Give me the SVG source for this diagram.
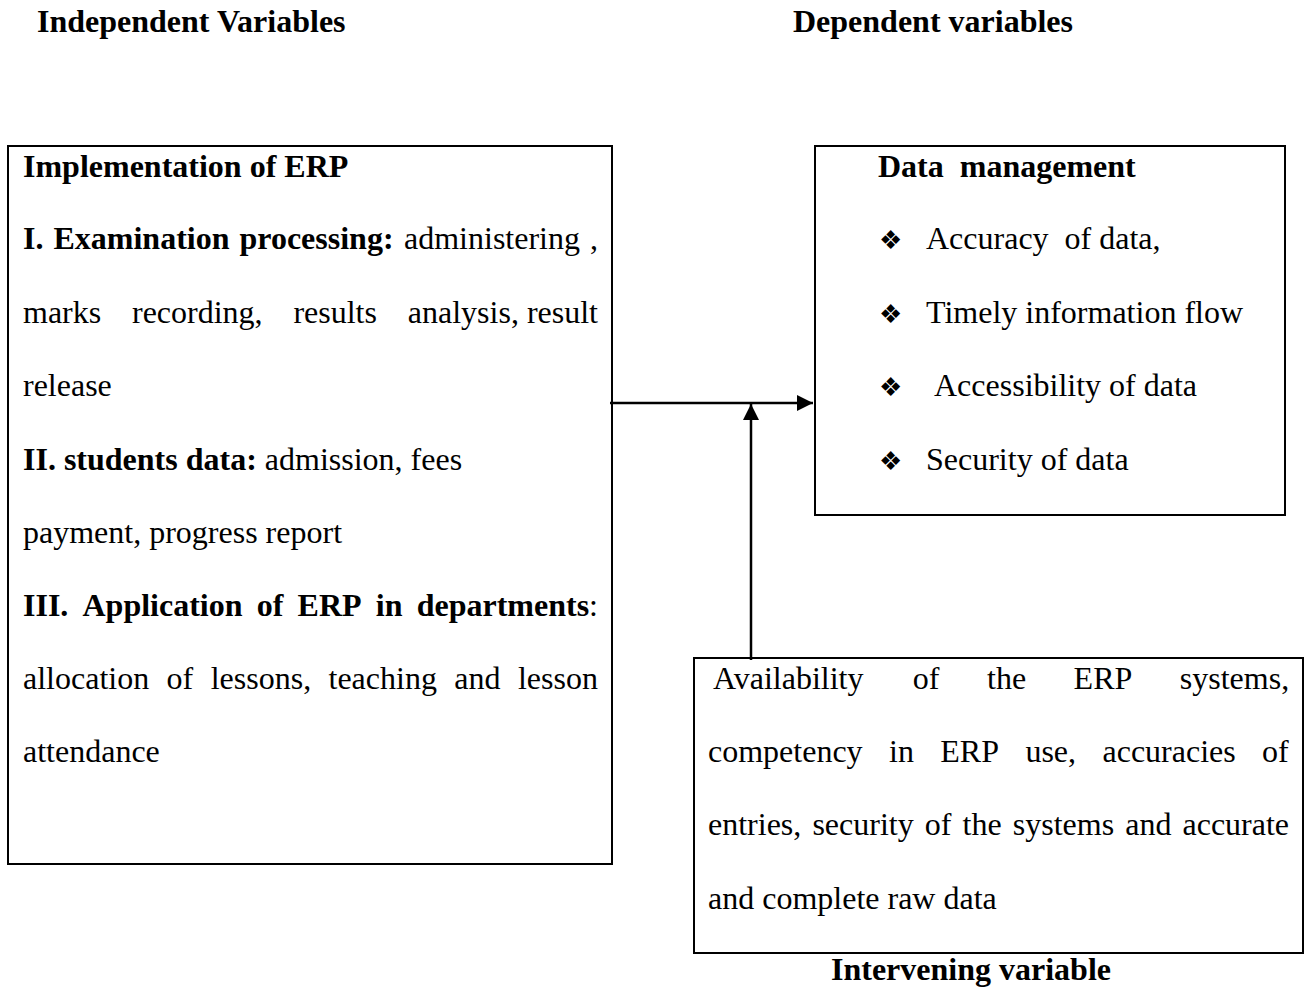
<svg xmlns="http://www.w3.org/2000/svg" width="1305" height="1003" viewBox="0 0 1305 1003">
<style>
text{font-family:"Liberation Serif","Times New Roman",serif;font-size:32px;fill:#000;white-space:pre}
.b{font-weight:bold}
.box{fill:#fff;stroke:#000;stroke-width:2}
.bul{font-family:"DejaVu Sans",sans-serif;font-size:26px}
.con{stroke:#000;stroke-width:2.5;fill:none}
</style>
<defs>
<marker id="ah" viewBox="0 0 16 16" refX="16" refY="8" markerWidth="16" markerHeight="16" markerUnits="userSpaceOnUse" orient="auto">
<path d="M0,0 L16,8 L0,16 z" fill="#000"/>
</marker>
</defs>
<g id="titles">
<text class="b" x="37" y="32">Independent Variables</text>
<text class="b" x="793" y="32">Dependent variables</text>
<text class="b" x="831" y="980">Intervening variable</text>
</g>
<g id="independent">
<rect class="box" x="8" y="146" width="604" height="718"/>
<text class="b" x="23" y="177">Implementation of ERP</text>
<text y="249"><tspan class="b" x="23" word-spacing="2">I. Examination processing:</tspan><tspan x="404">administering</tspan><tspan x="590">,</tspan></text>
<text y="323"><tspan x="23">marks</tspan><tspan x="132">recording,</tspan><tspan x="293.4">results</tspan><tspan x="407.8">analysis,</tspan><tspan x="526.9">result</tspan></text>
<text x="23" y="396">release</text>
<text y="470"><tspan class="b" x="23">II. students data:</tspan> admission, fees</text>
<text x="23" y="543">payment, progress report</text>
<text y="616"><tspan class="b" x="23">III.</tspan><tspan class="b" x="82.5">Application</tspan><tspan class="b" x="256.7">of</tspan><tspan class="b" x="297.6">ERP</tspan><tspan class="b" x="375.8">in</tspan><tspan class="b" x="416.7">departments</tspan><tspan x="589.1">:</tspan></text>
<text y="689"><tspan x="23">allocation</tspan><tspan x="166.6">of</tspan><tspan x="210.7">lessons,</tspan><tspan x="328.5">teaching</tspan><tspan x="454.3">and</tspan><tspan x="517.9">lesson</tspan></text>
<text x="23" y="762">attendance</text>
</g>
<g id="dependent">
<rect class="box" x="815" y="146" width="470" height="369"/>
<text class="b" x="878" y="177">Data  management</text>
<text class="bul" x="879" y="249">❖</text>
<text x="926" y="249">Accuracy  of data,</text>
<text class="bul" x="879" y="323">❖</text>
<text x="926" y="323">Timely information flow</text>
<text class="bul" x="879" y="396">❖</text>
<text x="934" y="396">Accessibility of data</text>
<text class="bul" x="879" y="470">❖</text>
<text x="926" y="470">Security of data</text>
</g>
<g id="intervening">
<rect class="box" x="694" y="658" width="609" height="295"/>
<text y="689"><tspan x="713">Availability</tspan><tspan x="912.8">of</tspan><tspan x="987">the</tspan><tspan x="1073.6">ERP</tspan><tspan x="1179.8">systems,</tspan></text>
<text y="762"><tspan x="708">competency</tspan><tspan x="889">in</tspan><tspan x="940.3">ERP</tspan><tspan x="1025.4">use,</tspan><tspan x="1102.5">accuracies</tspan><tspan x="1262.1">of</tspan></text>
<text y="835"><tspan x="708">entries,</tspan><tspan x="812.4">security</tspan><tspan x="924.8">of</tspan><tspan x="962.6">the</tspan><tspan x="1012.8">systems</tspan><tspan x="1125.2">and</tspan><tspan x="1182.5">accurate</tspan></text>
<text x="708" y="909">and complete raw data</text>
</g>
<g id="connectors">
<line class="con" x1="610" y1="403" x2="813" y2="403" marker-end="url(#ah)"/>
<line class="con" x1="751" y1="660" x2="751" y2="404" marker-end="url(#ah)"/>
</g>
</svg>
